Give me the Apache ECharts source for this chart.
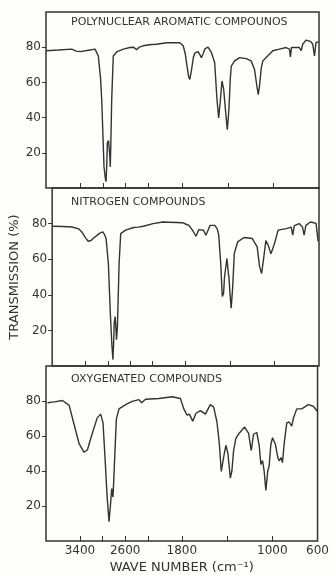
<!DOCTYPE html>
<html>
<head>
<meta charset="utf-8">
<script src="https://cdn.jsdelivr.net/npm/echarts@6/dist/echarts.min.js"></script>
<style>
html,body{margin:0;padding:0;background:#fefefb;}
#chart{width:332px;height:575px;}
</style>
</head>
<body>
<div id="chart"></div>
<script>
// ---- data (wave number in cm^-1, transmission in %) ----
var panelTitles = ['POLYNUCLEAR AROMATIC COMPOUNOS', 'NITROGEN COMPOUNDS', 'OXYGENATED COMPOUNDS'];

var aromaticWn = [4000,3780,3547,3470,3400,3250,3138,3108,3080,3040,3020,2980,2955,2945,2935,2921,2900,2892,2878,2870,2860,2845,2817,2757,2641,2524,2460,2407,2360,2291,2150,2056,1940,1824,1794,1775,1765,1745,1736,1722,1705,1693,1663,1645,1634,1620,1604,1576,1560,1546,1517,1497,1482,1467,1453,1445,1438,1420,1406,1392,1380,1371,1342,1298,1240,1196,1167,1146,1134,1123,1108,1094,1064,1006,948,889,860,851,842,802,772,757,743,714,690,670,655,640,626,612,600];
var aromaticT  = [78,78.4,78.9,77.8,77.5,78.3,78.9,78.5,75,62,50,12,5,3.6,10,25.5,27,26,18,12,25,50,75,77.3,78.9,79.8,80,78.6,80,80.8,81.5,81.7,82.5,82.5,80.8,76,71.2,63,61.7,66.5,74,76.6,77.5,75.5,74,76,79,80,79.5,77,71.2,50.3,39.8,50,60.8,60,56,42.7,33.1,44.6,62,69.3,72.2,74.1,73.5,72.2,67.4,57.9,53.1,57.9,68,72.2,74.1,78,78.9,79.8,78.9,74.5,79.8,79.8,79.8,78,81.7,84,83.6,83,81.7,75,82.7,83.6,83];

var nitrogenWn = [3993,3800,3643,3520,3467,3400,3352,3300,3264,3234,3150,3089,3060,3030,2989,2954,2924,2907,2895,2884,2866,2855,2843,2835,2826,2796,2767,2680,2534,2450,2359,2184,2009,1828,1790,1770,1740,1726,1706,1682,1660,1638,1618,1600,1580,1538,1515,1502,1484,1470,1465,1458,1450,1428,1415,1410,1400,1390,1376,1362,1332,1274,1200,1156,1134,1116,1098,1078,1056,1032,1016,996,968,894,850,836,822,778,748,734,718,676,646,626,608];
var nitrogenT  = [78.5,78.4,78.1,77,75.3,72,70.1,70.5,71.6,72,74.5,75.3,74,71.6,57.6,29.7,11,3.6,12,24.1,27.8,22,14.8,18,22.2,57.6,74.4,76.3,77.8,78,78.5,80,80.9,80.5,79.5,79,76.5,76.3,72.9,76.6,76.5,76.3,73.5,76,79,79,77,73.5,57.6,39,40,40.9,50,60.4,52,50.2,40,32.5,44.6,63.2,69.7,72.2,71.6,66.9,55.7,52,60.4,70.4,67.7,63,62.5,69.7,76.3,77.2,78,73.5,78.9,80,78,73.5,79,80.9,80.5,80,70];

var oxygenWn = [3974,3850,3709,3591,3503,3415,3327,3269,3181,3093,3033,2992,2957,2921,2886,2857,2839,2816,2793,2757,2710,2593,2476,2358,2311,2241,2005,1885,1812,1782,1753,1733,1703,1674,1635,1591,1548,1518,1489,1468,1451,1439,1424,1410,1392,1371,1357,1342,1322,1292,1245,1210,1186,1166,1137,1116,1101,1086,1072,1057,1040,1028,1013,998,974,951,939,922,910,895,872,851,828,814,784,740,682,638,600];
var oxygenT  = [79,79.5,80.3,77.5,66.6,55.6,50.7,52,61.6,70.5,72.5,67.5,47.7,26,11.1,22,29.9,25,41.8,69.5,75.5,77.9,79.8,80.8,79,81,81.4,82.4,81.4,75.5,71.9,72.5,68.5,73,74.5,72.5,77.9,76.5,68,55.6,39.8,38.8,50,54.7,50,35.9,40,51.7,58.6,61.6,65.1,61.6,51.7,61,62,54.7,43.8,46,40,28.9,40,42.8,55,59,55.6,47.7,45.8,47.7,44.8,55.6,67.5,68,65.6,70,75.5,75.5,77.9,77,74];

var xTickWn  = [3400,3000,2600,2200,1800,1400,1000];
var xLabelWn = [3400,2600,1800,1000,600];
var yTicks   = [20,40,60,80];

// ---- IR chart abscissa: scale doubles below 2000 cm^-1 ----
function toU(w){ return w >= 2000 ? (4000 - w) / 400 : 5 + (2000 - w) / 200; }
function fromU(u){ return u <= 5 ? 4000 - 400 * u : 2000 - 200 * (u - 5); }

function pairs(wn, t){ return wn.map(function(w, i){ return [toU(w), t[i]]; }); }

var ink = '#333';
var font = 'DejaVu Sans';
var grids = [
  {left:46, right:13, top:12, height:176},
  {left:46, right:13, top:188, height:178},
  {left:46, right:13, top:366, height:175}
];
var titleTops = [17, 197, 374];
var seriesData = [pairs(aromaticWn, aromaticT), pairs(nitrogenWn, nitrogenT), pairs(oxygenWn, oxygenT)];

var option = {
  backgroundColor: '#fefefb',
  animation: false,
  grid: grids.map(function(g){ return Object.assign({show:true, borderColor:ink, borderWidth:1.5, backgroundColor:'transparent'}, g); }),
  title: panelTitles.map(function(t, i){
    return {text:t, left:71, top:titleTops[i], padding:0,
      textStyle:{fontFamily:font, fontSize:11, fontWeight:'normal', color:ink}};
  }),
  xAxis: [0,1,2].map(function(i){
    return {
      type:'value', gridIndex:i, min:0, max:12,
      axisLine:{show:false},
      splitLine:{show:false},
      axisTick:{show:true, inside:true, length:5, lineStyle:{color:ink, width:1},
        customValues: xTickWn.map(toU)},
      axisLabel:{show:i === 2, margin:4, fontFamily:font, fontSize:12, color:ink,
        customValues: xLabelWn.map(toU),
        formatter:function(v){ return String(Math.round(fromU(v))); }},
      name: i === 2 ? 'WAVE NUMBER (cm\u207B\u00B9)' : '',
      nameLocation:'middle', nameGap:20,
      nameTextStyle:{fontFamily:font, fontSize:13, color:ink}
    };
  }),
  yAxis: [0,1,2].map(function(i){
    return {
      type:'value', gridIndex:i, min:0, max:100,
      axisLine:{show:false},
      splitLine:{show:false},
      axisTick:{show:true, inside:false, length:4, lineStyle:{color:ink, width:1},
        customValues: yTicks},
      axisLabel:{margin:5, fontFamily:font, fontSize:12, color:ink, customValues: yTicks},
      name: i === 1 ? 'TRANSMISSION (%)' : '',
      nameLocation:'middle', nameGap:19, nameRotate:90,
      nameTextStyle:{fontFamily:font, fontSize:13, color:ink}
    };
  }),
  series: seriesData.map(function(d, i){
    return {type:'line', xAxisIndex:i, yAxisIndex:i, data:d, symbol:'none',
      lineStyle:{color:ink, width:1.4}, clip:true};
  })
};

var chart = echarts.init(document.getElementById('chart'), null, {renderer:'canvas'});
chart.setOption(option);
</script>
</body>
</html>
